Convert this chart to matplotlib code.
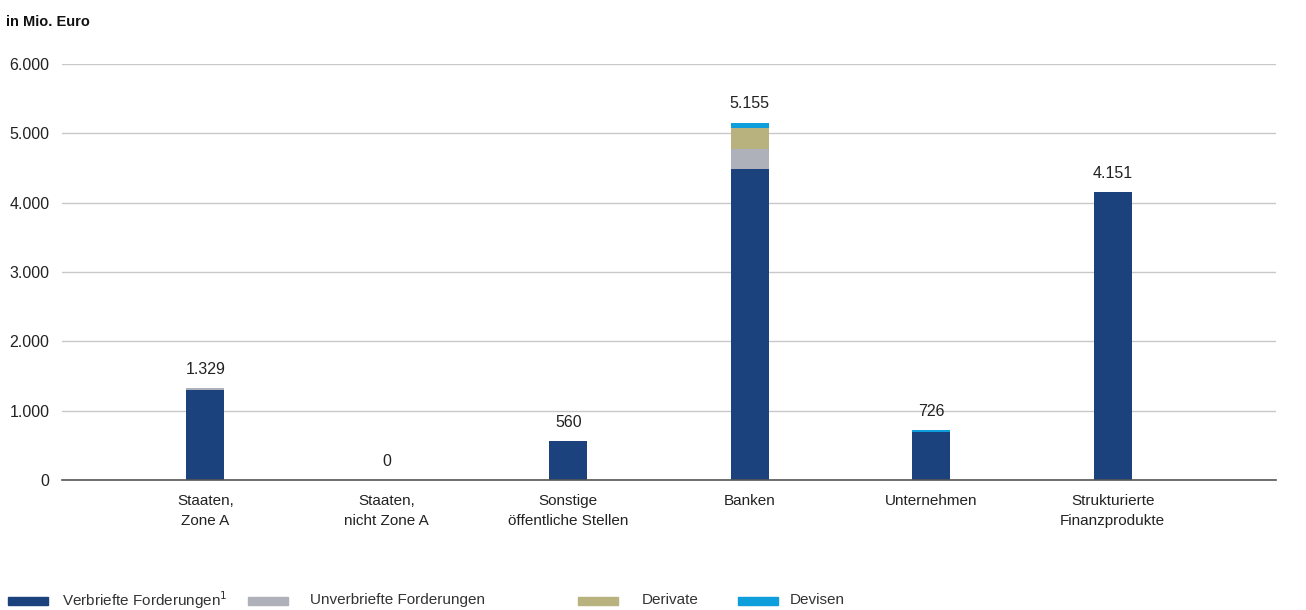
import matplotlib
matplotlib.use("Agg")
import matplotlib.pyplot as plt
from matplotlib.patches import Rectangle
import numpy as np

categories = ["Staaten,\nZone A", "Staaten,\nnicht Zone A", "Sonstige\nöffentliche Stellen",
              "Banken", "Unternehmen", "Strukturierte\nFinanzprodukte"]
verbriefte = [1300, 0, 560, 4486, 688, 4151]
unverbriefte = [29, 0, 0, 288, 5, 0]
derivate = [0, 0, 0, 307, 0, 0]
devisen = [0, 0, 0, 74, 33, 0]
totals = [1329, 0, 560, 5155, 726, 4151]
total_labels = ["1.329", "0", "560", "5.155", "726", "4.151"]

series_names = ["Verbriefte Forderungen$^1$", "Unverbriefte Forderungen", "Derivate", "Devisen"]
colors = ["#1B427D", "#AEB1B9", "#B8B27F", "#0E9EDB"]

plt.rcParams["font.family"] = ["Liberation Sans", "DejaVu Sans"]

fig = plt.figure(figsize=(13.06, 6.10), dpi=100)
ax = fig.add_axes([62 / 1306, 1 - 480 / 610, (1276 - 62) / 1306, (480 - 64) / 610])

x = np.arange(len(categories))
bottom = np.zeros(len(categories))
for vals, col in zip([verbriefte, unverbriefte, derivate, devisen], colors):
    ax.bar(x, vals, width=0.21, bottom=bottom, color=col, zorder=3)
    bottom += np.array(vals)

for xi, t, lab in zip(x, totals, total_labels):
    ax.text(xi, t + 160, lab, ha="center", va="bottom", fontsize=11.5, color="#222222")

ax.set_ylim(0, 6000)
ax.set_xlim(-0.79, 5.90)
ax.set_yticks(range(0, 6001, 1000))
ax.set_yticklabels(["0", "1.000", "2.000", "3.000", "4.000", "5.000", "6.000"],
                   fontsize=11.5, color="#222222")
ax.set_xticks(x)
ax.set_xticklabels(categories, fontsize=11, color="#222222", linespacing=1.6)
ax.tick_params(axis="both", length=0)
ax.tick_params(axis="y", pad=9)
ax.tick_params(axis="x", pad=10)
ax.grid(axis="y", color="#C8C8C8", linewidth=1, zorder=0)
for s in ["top", "right", "left"]:
    ax.spines[s].set_visible(False)
ax.spines["bottom"].set_color("#555555")
ax.spines["bottom"].set_linewidth(1.2)
ax.spines["bottom"].set_zorder(4)

fig.text(6 / 1306, 1 - 22 / 610, "in Mio. Euro", fontsize=10.5, fontweight="bold",
         va="center", ha="left", color="#111111")

# legend along the bottom
leg_patch_x = [8, 248, 578, 738]
leg_text_x = [62, 310, 642, 790]
leg_y = 600
for px, tx, name, col in zip(leg_patch_x, leg_text_x, series_names, colors):
    fig.add_artist(Rectangle((px / 1306, 1 - (leg_y + 5) / 610), 40 / 1306, 8 / 610,
                             transform=fig.transFigure, color=col))
    fig.text(tx / 1306, 1 - leg_y / 610, name, fontsize=11,
             va="center", ha="left", color="#333333")

fig.savefig("out.png", dpi=100)
